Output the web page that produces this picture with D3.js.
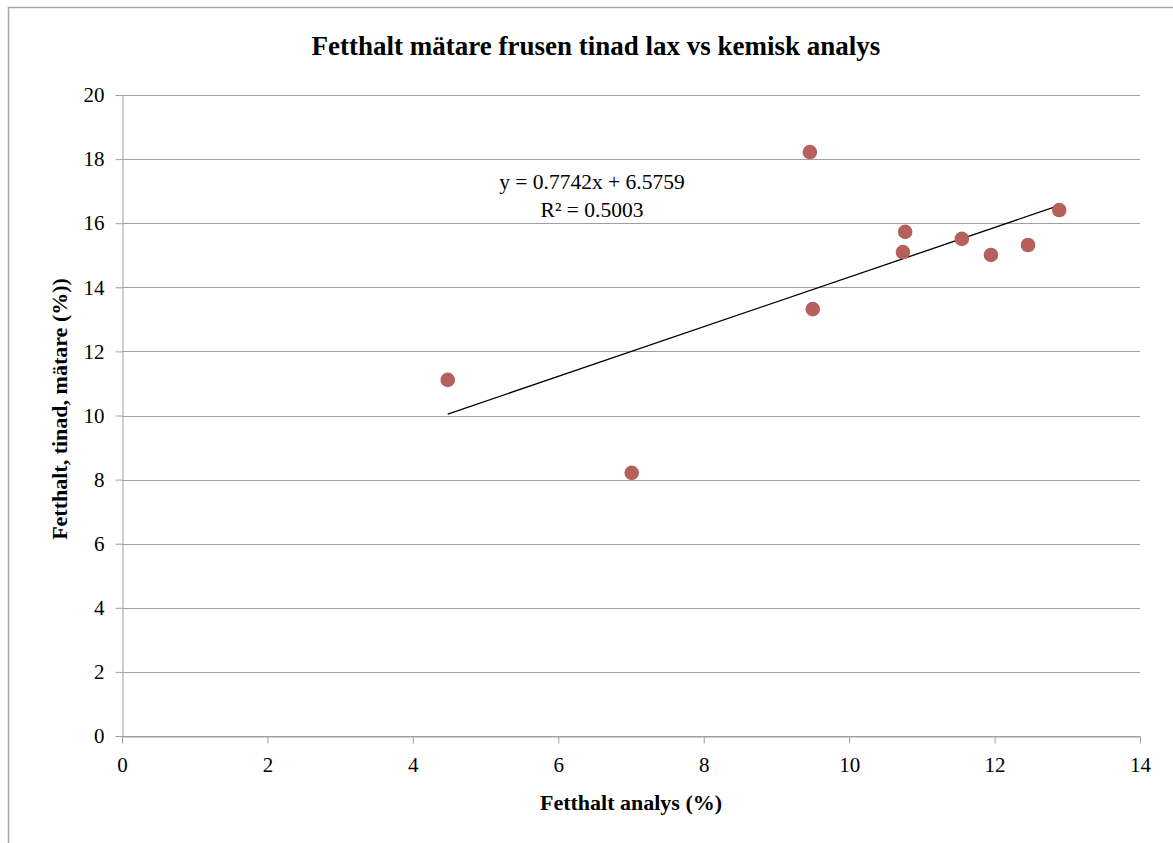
<!DOCTYPE html>
<html><head><meta charset="utf-8">
<script src="https://cdn.jsdelivr.net/npm/d3@7"></script>
<style>body{margin:0;background:#fff;} text{font-family:"Liberation Serif","DejaVu Serif",serif;}</style>
</head><body>
<svg id="c" width="1173" height="843"></svg>
<script>
const title = "Fetthalt mätare frusen tinad lax vs kemisk analys";
const xLabel = "Fetthalt analys (%)";
const yLabel = "Fetthalt, tinad, mätare (%))";
const xValues = [4.48, 7.01, 9.46, 9.50, 10.74, 10.77, 11.55, 11.95, 12.46, 12.89];
const yValues = [11.11, 8.21, 18.22, 13.32, 15.10, 15.73, 15.51, 15.01, 15.32, 16.41];
const xTicks = [0, 2, 4, 6, 8, 10, 12, 14];
const yTicks = [0, 2, 4, 6, 8, 10, 12, 14, 16, 18, 20];
const slope = 0.7742, intercept = 6.5759;
const eqLines = ["y = 0.7742x + 6.5759", "R² = 0.5003"];

const svg = d3.select("#c");
const L = 122, R = 1140, T = 95, B = 736;
const x = d3.scaleLinear().domain([0, 14]).range([L, R]);
const y = d3.scaleLinear().domain([0, 20]).range([B, T]);

// outer border (top + left)
svg.append("path").attr("d", `M8.5,843 L8.5,7.5 L1173,7.5`).attr("fill","none").attr("stroke","#a6a6a6").attr("stroke-width",1.5);

// gridlines
svg.append("g").selectAll("line").data(yTicks).join("line")
  .attr("x1", L).attr("x2", R).attr("y1", d=>Math.round(y(d))+0.5).attr("y2", d=>Math.round(y(d))+0.5)
  .attr("stroke", "#a0a0a0").attr("stroke-width", 1);

// y axis
const ya = svg.append("g").attr("transform", `translate(${L+0.5},0)`)
  .call(d3.axisLeft(y).tickValues(yTicks).tickSize(7).tickSizeOuter(0).tickPadding(11));
ya.select(".domain").attr("stroke","#a0a0a0");
ya.selectAll(".tick line").attr("stroke","#a0a0a0");
ya.selectAll("text").attr("font-size", 21).attr("fill","#000").style("font-family","'Liberation Serif',serif");

// x axis
const xa = svg.append("g").attr("transform", `translate(0,${Math.round(B)+0.5})`)
  .call(d3.axisBottom(x).tickValues(xTicks).tickSize(7).tickSizeOuter(0).tickPadding(14));
xa.select(".domain").attr("stroke","#a0a0a0");
xa.selectAll(".tick line").attr("stroke","#a0a0a0");
xa.selectAll("text").attr("font-size", 21).attr("fill","#000").style("font-family","'Liberation Serif',serif");

// trendline
const x0 = d3.min(xValues), x1 = d3.max(xValues);
svg.append("line").attr("x1", x(x0)).attr("y1", y(slope*x0+intercept))
  .attr("x2", x(x1)).attr("y2", y(slope*x1+intercept)).attr("stroke","#000").attr("stroke-width",1.3);

// points
svg.append("g").selectAll("circle").data(xValues.map((v,i)=>[v,yValues[i]])).join("circle")
  .attr("cx", d=>x(d[0])).attr("cy", d=>y(d[1])).attr("r", 7.3).attr("fill","#b5605a");

// equation
svg.append("g").selectAll("text").data(eqLines).join("text")
  .attr("x", 592).attr("y", (d,i)=>189+i*28).attr("text-anchor","middle")
  .attr("font-size", 21.5).text(d=>d);

// title
svg.append("text").attr("x", 596).attr("y", 55).attr("text-anchor","middle")
  .attr("font-size", 27).attr("font-weight","bold").text(title);

// x label
svg.append("text").attr("x", 631).attr("y", 810).attr("text-anchor","middle")
  .attr("font-size", 22).attr("font-weight","bold").text(xLabel);

// y label
svg.append("text").attr("transform", `translate(67,409) rotate(-90)`).attr("text-anchor","middle")
  .attr("font-size", 22).attr("font-weight","bold").text(yLabel);
</script>
</body></html>
